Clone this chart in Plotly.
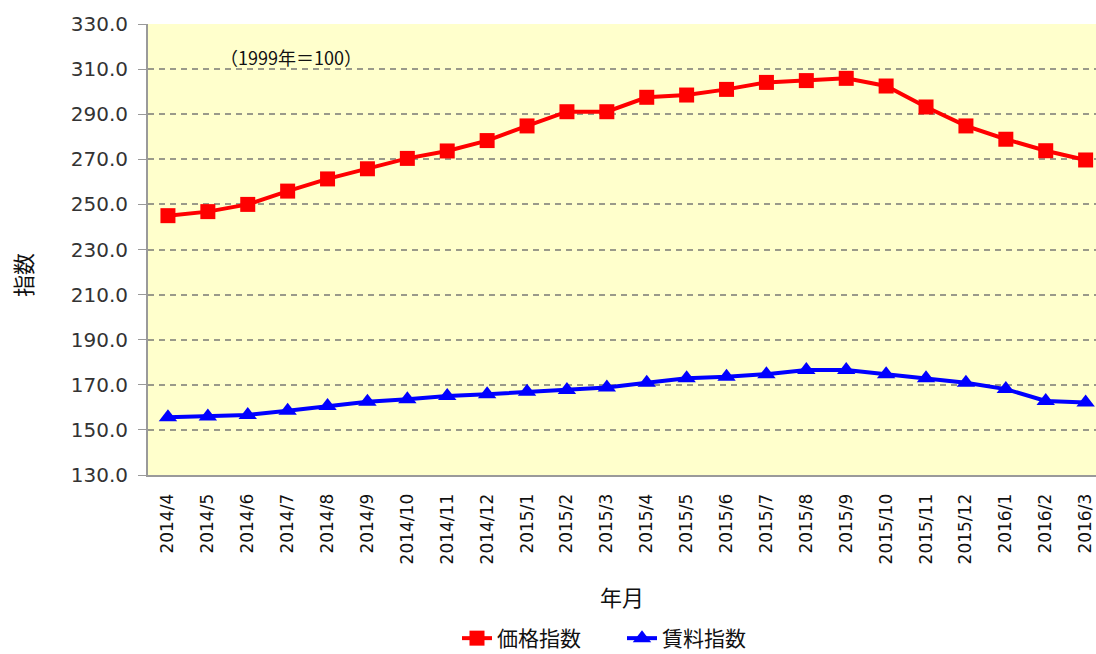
import plotly.graph_objects as go

months = ["2014/4", "2014/5", "2014/6", "2014/7", "2014/8", "2014/9", "2014/10", "2014/11",
          "2014/12", "2015/1", "2015/2", "2015/3", "2015/4", "2015/5", "2015/6", "2015/7",
          "2015/8", "2015/9", "2015/10", "2015/11", "2015/12", "2016/1", "2016/2", "2016/3"]
price_index = [245.0, 246.8, 250.0, 255.9, 261.3, 265.8, 270.4, 273.7, 278.3, 284.8, 291.1, 291.1,
               297.5, 298.5, 301.0, 304.1, 304.9, 305.9, 302.5, 293.2, 284.8, 278.9, 273.8, 269.7]
rent_index = [155.6, 155.9, 156.6, 158.5, 160.6, 162.5, 163.6, 165.0, 165.8, 166.9, 167.7, 168.8,
              170.9, 172.9, 173.6, 174.7, 176.6, 176.6, 174.7, 172.9, 170.9, 168.1, 162.8, 162.2]
y_ticks = [130, 150, 170, 190, 210, 230, 250, 270, 290, 310, 330]

JP = "Noto Sans CJK JP"
fig = go.Figure()
fig.add_trace(go.Scatter(x=months, y=price_index, name="価格指数", mode="lines+markers",
                         line=dict(color="#FF0000", width=4),
                         marker=dict(symbol="square", size=15, color="#FF0000")))
fig.add_trace(go.Scatter(x=months, y=rent_index, name="賃料指数", mode="lines+markers",
                         line=dict(color="#0000FF", width=4),
                         marker=dict(symbol="triangle-up", size=16, color="#0000FF")))

fig.update_layout(
    width=1096, height=654,
    margin=dict(l=148, r=0, t=24, b=179, autoexpand=False),
    paper_bgcolor="white", plot_bgcolor="#FFFFCC",
    font=dict(family="DejaVu Sans", color="#222222"),
    showlegend=True,
    legend=dict(orientation="h", x=0.5, xanchor="center", y=(475 - 659) / 451, yanchor="bottom",
                font=dict(family=JP, size=21, color="#111111"), entrywidth=120,
                tracegroupgap=0, bgcolor="rgba(0,0,0,0)"),
    xaxis=dict(type="category", range=[-0.5, 23.26], tickangle=-90, showgrid=False,
               showline=True, linecolor="#9a9a9a", linewidth=2, ticks="",
               tickfont=dict(family="DejaVu Sans", size=17, color="#111111"),
               ticklabelstandoff=10, zeroline=False, automargin=False),
    yaxis=dict(range=[130, 330], tickvals=y_ticks, tickformat=".1f",
               showgrid=True, gridcolor="#9a9a8a", griddash="6px,5px", gridwidth=1.5,
               showline=True, linecolor="#9a9a9a", linewidth=2,
               ticks="outside", ticklen=8, tickcolor="#9a9a9a",
               tickfont=dict(family="DejaVu Sans", size=20, color="#333333"),
               ticklabelstandoff=6, zeroline=False, automargin=False),
    annotations=[
        dict(text="（1999年＝100）", xref="paper", yref="paper", x=(218 - 148) / 948,
             y=(475 - 57) / 451, xanchor="left", yanchor="middle", showarrow=False,
             font=dict(family=JP, size=18, color="#111111")),
        dict(text="年月", xref="paper", yref="paper", x=0.5, y=(475 - 596) / 451,
             xanchor="center", yanchor="middle", showarrow=False,
             font=dict(family=JP, size=22, color="#111111")),
        dict(text="指数", xref="paper", yref="paper", x=(22 - 148) / 948, y=(475 - 275) / 451,
             xanchor="center", yanchor="middle", textangle=-90, showarrow=False,
             font=dict(family=JP, size=22, color="#111111")),
    ],
)
fig.write_html("out.html")
